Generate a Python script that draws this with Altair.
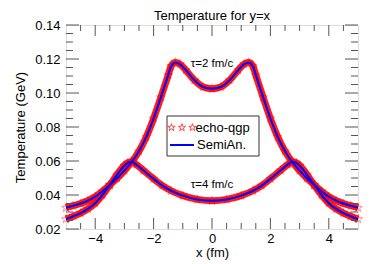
import altair as alt
import pandas as pd

# ---- data ----
x_tau2 = [-5.0, -4.75, -4.5, -4.25, -4.0, -3.75, -3.5, -3.25, -3.0, -2.75, -2.5, -2.25, -2.0,
          -1.75, -1.5, -1.4, -1.25, -1.1, -0.9, -0.6, -0.3, 0.0, 0.3, 0.6, 0.9, 1.1, 1.25, 1.4,
          1.5, 1.75, 2.0, 2.25, 2.5, 2.75, 3.0, 3.25, 3.5, 3.75, 4.0, 4.25, 4.5, 4.75, 5.0]
T_tau2 = [0.0325, 0.0337, 0.0350, 0.0367, 0.0390, 0.0422, 0.0460, 0.0498, 0.0543, 0.0594, 0.0658,
          0.0742, 0.0850, 0.0975, 0.1105, 0.1158, 0.1180, 0.1170, 0.1135, 0.1075, 0.1035, 0.1025,
          0.1035, 0.1075, 0.1135, 0.1170, 0.1180, 0.1158, 0.1105, 0.0975, 0.0850, 0.0742, 0.0658,
          0.0594, 0.0543, 0.0498, 0.0460, 0.0422, 0.0390, 0.0367, 0.0350, 0.0337, 0.0325]

x_tau4 = [-5.0, -4.75, -4.5, -4.25, -4.0, -3.75, -3.5, -3.25, -3.0, -2.9, -2.75, -2.6, -2.35, -2.0,
          -1.7, -1.4, -1.0, -0.5, 0.0, 0.5, 1.0, 1.4, 1.7, 2.0, 2.35, 2.6, 2.75, 2.9, 3.0, 3.25,
          3.5, 3.75, 4.0, 4.25, 4.5, 4.75, 5.0]
T_tau4 = [0.0258, 0.0275, 0.0294, 0.0318, 0.0352, 0.0400, 0.0458, 0.0520, 0.0574, 0.0588, 0.0596,
          0.0580, 0.0545, 0.0495, 0.0455, 0.0425, 0.0396, 0.0374, 0.0366, 0.0374, 0.0396, 0.0425,
          0.0455, 0.0495, 0.0545, 0.0580, 0.0596, 0.0588, 0.0574, 0.0520, 0.0458, 0.0400, 0.0352,
          0.0318, 0.0294, 0.0275, 0.0258]

x_labels = [-4, -2, 0, 2, 4]
x_minor = [-4.5, -3.5, -3.0, -2.5, -1.5, -1.0, -0.5, 0.5, 1.0, 1.5, 2.5, 3.0, 3.5, 4.5]
y_labels = [0.02, 0.04, 0.06, 0.08, 0.10, 0.12, 0.14]
y_minor = [0.025, 0.03, 0.035, 0.045, 0.05, 0.055, 0.065, 0.07, 0.075, 0.085, 0.09, 0.095,
           0.105, 0.11, 0.115, 0.125, 0.13, 0.135]

annot_x = [0.0, 0.0]
annot_y = [0.1171, 0.0457]
annot_text = ["\u03c4=2 fm/c", "\u03c4=4 fm/c"]
title_text = "Temperature for y=x"

W, H = 292, 204
FONT = "Liberation Sans"
STAR = ("M0,-1L0.2245,-0.309L0.951,-0.309L0.363,0.118L0.588,0.809L0,0.382L-0.588,0.809"
        "L-0.363,0.118L-0.951,-0.309L-0.2245,-0.309Z")

curves = pd.concat([
    pd.DataFrame({"x": x_tau2, "T": T_tau2, "curve": "tau2"}),
    pd.DataFrame({"x": x_tau4, "T": T_tau4, "curve": "tau4"}),
], ignore_index=True)

xs = alt.Scale(domain=[-5, 5], nice=False, zero=False)
ys = alt.Scale(domain=[0.02, 0.14], nice=False, zero=False)
xaxis = alt.Axis(values=x_labels, title="x (fm)", grid=False, ticks=False, domain=False,
                 labelFontSize=13, labelFont=FONT, labelPadding=3, labelColor="black",
                 titleFontSize=13, titleFont=FONT, titleFontWeight="normal", titleColor="black",
                 titleX=W / 2, titleY=23, titleBaseline="middle")
yaxis = alt.Axis(values=y_labels, format=".2f", title="Temperature (GeV)", grid=False,
                 ticks=False, domain=False, labelFontSize=13, labelFont=FONT, labelPadding=6,
                 labelColor="black", titleFontSize=13, titleFont=FONT,
                 titleFontWeight="normal", titleColor="black", titleX=-46, titleY=H / 2,
                 titleBaseline="middle", titleAngle=270)


def X(f):
    return alt.X(f, type="quantitative", scale=xs, axis=xaxis)


def Y(f):
    return alt.Y(f, type="quantitative", scale=ys, axis=yaxis)


band = alt.Chart(curves).mark_line(color="#ff1010", strokeWidth=7, interpolate="monotone",
                                   opacity=0.95).encode(x=X("x"), y=Y("T"), detail="curve:N")
stars = alt.Chart(curves).mark_point(shape=STAR, size=85, filled=False, color="#ff0000",
                                     strokeWidth=1, opacity=0.45).encode(x=X("x"), y=Y("T"))
blue = alt.Chart(curves).mark_line(color="#0000ff", strokeWidth=2,
                                   interpolate="monotone").encode(x=X("x"), y=Y("T"),
                                                                 detail="curve:N")

TICK = "#555555"
xmaj = pd.DataFrame({"v": x_labels})
xmin = pd.DataFrame({"v": x_minor})
ymaj = pd.DataFrame({"v": y_labels})
ymin = pd.DataFrame({"v": y_minor})

tick_layers = []
for d, ln in ((xmaj, 11), (xmin, 6)):
    tick_layers.append(alt.Chart(d).mark_rule(color=TICK, strokeWidth=1).encode(
        x=X("v"), y=alt.value(H), y2=alt.value(H - ln)))
    tick_layers.append(alt.Chart(d).mark_rule(color=TICK, strokeWidth=1).encode(
        x=X("v"), y=alt.value(0), y2=alt.value(ln)))
for d, ln in ((ymaj, 13), (ymin, 7)):
    tick_layers.append(alt.Chart(d).mark_rule(color=TICK, strokeWidth=1).encode(
        y=Y("v"), x=alt.value(0), x2=alt.value(ln)))
    tick_layers.append(alt.Chart(d).mark_rule(color=TICK, strokeWidth=1).encode(
        y=Y("v"), x=alt.value(W), x2=alt.value(W - ln)))

annots = alt.Chart(pd.DataFrame({"ax": annot_x, "ay": annot_y, "t": annot_text})).mark_text(
    font=FONT, fontSize=11.5, color="black", baseline="middle", align="center").encode(
    x=X("ax"), y=Y("ay"), text="t:N")

one = alt.Data(values=[{}])
title_mark = alt.Chart(one).mark_text(text=title_text, font=FONT, fontSize=13, align="center",
                                      baseline="alphabetic", color="black").encode(
    x=alt.value(W / 2), y=alt.value(-5.5))
leg_box = alt.Chart(one).mark_rect(fill="white", stroke="#333333", strokeWidth=1).encode(
    x=alt.value(101), x2=alt.value(193), y=alt.value(91), y2=alt.value(131))
leg_stars = alt.Chart(pd.DataFrame({"px": [105.5, 116, 126.5], "py": [102.5, 102.5, 102.5]})).mark_point(
    shape=STAR, size=60, filled=False, color="#ff0000", strokeWidth=1).encode(
    x=alt.X("px:Q", scale=None), y=alt.Y("py:Q", scale=None))
leg_line = alt.Chart(one).mark_rule(color="#0000ff", strokeWidth=2).encode(
    x=alt.value(104), x2=alt.value(128), y=alt.value(120))
leg_t1 = alt.Chart(one).mark_text(text="echo-qgp", font=FONT, fontSize=13, align="left",
                                  baseline="middle", color="black").encode(
    x=alt.value(129.5), y=alt.value(102.5))
leg_t2 = alt.Chart(one).mark_text(text="SemiAn.", font=FONT, fontSize=13, align="left",
                                  baseline="middle", color="black").encode(
    x=alt.value(131), y=alt.value(120))

chart = alt.layer(band, stars, blue, *tick_layers, annots, title_mark, leg_box, leg_stars,
                  leg_line, leg_t1, leg_t2).properties(
    width=W, height=H,
    autosize=alt.AutoSizeParams(type="none"),
    padding={"left": 58, "top": 17, "right": 8, "bottom": 35},
).configure_view(stroke="#333333", strokeWidth=1).configure(background="white")

chart.save("out.html", embed_options={"renderer": "svg", "actions": False})
